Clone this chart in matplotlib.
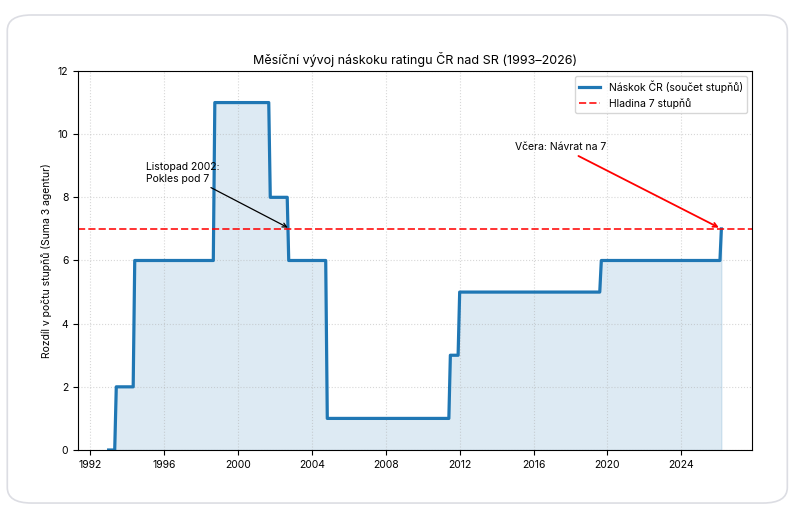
import numpy as np
import pandas as pd
import matplotlib
matplotlib.use('Agg')
from matplotlib import pyplot as plt
from matplotlib.patches import FancyBboxPatch

plt.rcParams['font.family'] = ['Inter', 'DejaVu Sans']

# Data: rating-gap changes (month when new value starts)
change_dates = ['1993-01', '1993-06', '1994-06', '1998-10', '2001-10',
                '2002-10', '2004-11', '2011-07', '2012-01', '2019-09', '2026-03']
change_values = [0, 2, 6, 11, 8, 6, 1, 3, 5, 6, 7]
end_month = '2026-03'

# monthly series (value held until the next change)
months = pd.date_range('1993-01-01', end_month + '-01', freq='MS')
steps = pd.Series(change_values, index=pd.to_datetime([d + '-01' for d in change_dates]))
gap = steps.reindex(months, method='ffill')

fig = plt.figure(figsize=(8.1, 5.17), dpi=100)
card = FancyBboxPatch((0.009, 0.027), 0.963, 0.944,
                      boxstyle='round,pad=0,rounding_size=0.03',
                      transform=fig.transFigure, facecolor='white',
                      edgecolor='#dcdde3', linewidth=1.2, zorder=-10)
fig.patches.append(card)

fs = 7.5
ax = fig.add_axes([0.0963, 0.1296, 0.8321, 0.7331])
ax.plot(gap.index, gap.values, color='#1f77b4', linewidth=2.3,
        label='Náskok ČR (součet stupňů)')
ax.fill_between(gap.index, gap.values, 0, color='#1f77b4', alpha=0.15)
ax.axhline(7, color='red', linestyle='--', linewidth=1.4, alpha=0.8,
           label='Hladina 7 stupňů')

ax.annotate('Listopad 2002:\nPokles pod 7',
            xy=(pd.Timestamp('2002-11-01'), 7),
            xytext=(pd.Timestamp('1995-01-01'), 8.5),
            fontsize=fs, arrowprops=dict(arrowstyle='->', color='black', lw=0.9))
ax.annotate('Včera: Návrat na 7',
            xy=(pd.Timestamp('2026-03-01'), 7),
            xytext=(pd.Timestamp('2015-01-01'), 9.5),
            fontsize=fs, arrowprops=dict(arrowstyle='->', color='red', lw=1.3))

ax.set_ylim(0, 12)
ax.set_title('Měsíční vývoj náskoku ratingu ČR nad SR (1993–2026)', fontsize=9, pad=5)
ax.set_ylabel('Rozdíl v počtu stupňů (Suma 3 agentur)', fontsize=fs)
ax.tick_params(labelsize=fs)
ax.grid(True, linestyle=':', alpha=0.5)
ax.legend(loc='upper right', fontsize=fs)

fig.savefig('out.png', dpi=100)
